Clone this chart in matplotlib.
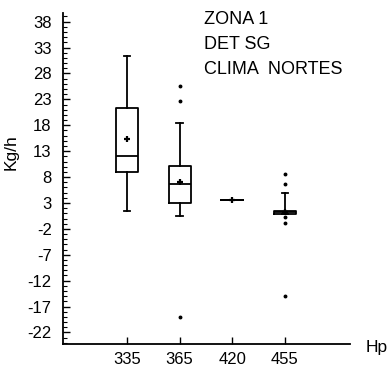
import matplotlib
matplotlib.use("Agg")
import matplotlib.pyplot as plt
from matplotlib.ticker import MultipleLocator

plt.rcParams['font.family'] = ['Liberation Sans', 'DejaVu Sans']

categories = ["335", "365", "420", "455"]
q1 = [9.0, 2.9, 3.6, 0.9]
median = [12.1, 6.6, 3.6, 1.2]
q3 = [21.4, 10.2, 3.6, 1.5]
whis_lo = [1.5, 0.4, 3.6, 0.9]
whis_hi = [31.4, 18.5, 3.6, 5.0]
means = [15.4, 7.1, 3.6, 1.2]
fliers = [[], [25.5, 22.7, -19.0], [], [8.5, 6.7, 0.2, -0.9, -14.9]]
yticks = [38, 33, 28, 23, 18, 13, 8, 3, -2, -7, -12, -17, -22]

fig = plt.figure(figsize=(3.88, 3.67), dpi=100)
ax = fig.add_axes([0.162, 0.063, 0.740, 0.902])

stats = []
for i, c in enumerate(categories):
    stats.append(dict(label=c, q1=q1[i], med=median[i], q3=q3[i],
                      whislo=whis_lo[i], whishi=whis_hi[i],
                      mean=means[i], fliers=fliers[i]))

pos = list(range(1, len(categories) + 1))
ax.bxp(stats, positions=pos, widths=0.42, capwidths=0.12, showmeans=True,
       boxprops=dict(color='black', linewidth=1.3),
       medianprops=dict(color='black', linewidth=1.3),
       whiskerprops=dict(color='black', linewidth=1.3),
       capprops=dict(color='black', linewidth=1.3),
       meanprops=dict(marker='+', markersize=5, markeredgecolor='black',
                      markeredgewidth=1.6),
       flierprops=dict(marker='o', markersize=1.8, markerfacecolor='black',
                       markeredgecolor='black', linestyle='none'))

ax.set_xlim(-0.215, 5.234)
ax.set_ylim(-24.2, 39.7)
ax.set_yticks(yticks)
ax.set_yticklabels([str(v) for v in yticks], fontsize=12)
ax.yaxis.set_minor_locator(MultipleLocator(1))
ax.set_xticks(pos)
ax.set_xticklabels(categories, fontsize=12)
ax.tick_params(axis='y', which='major', direction='in', length=5, width=1, pad=8)
ax.tick_params(axis='y', which='minor', direction='in', length=3, width=0.8)
ax.tick_params(axis='x', which='major', direction='in', length=5, width=1, pad=6)
for s in ['top', 'right']:
    ax.spines[s].set_visible(False)
for s in ['left', 'bottom']:
    ax.spines[s].set_linewidth(1.3)

ax.set_ylabel("Kg/h", fontsize=12.5)
ax.yaxis.set_label_coords(-0.155, 0.58)
fig.text(0.942, 0.054, "Hp", fontsize=12.5, ha='left', va='center')

ax.text(0.49, 1.005, "ZONA 1\nDET SG\nCLIMA  NORTES", transform=ax.transAxes,
        fontsize=13, ha='left', va='top', linespacing=1.6)

fig.savefig("out.png", dpi=100)
